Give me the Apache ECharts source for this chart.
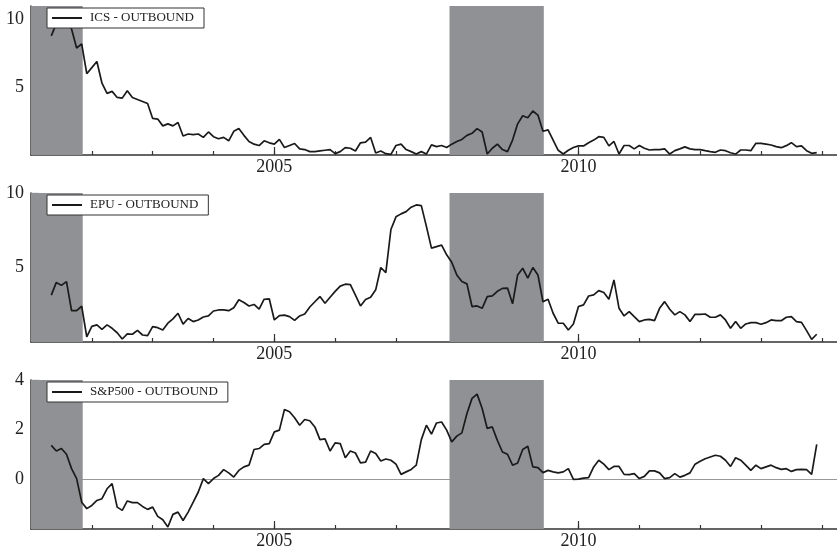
<!DOCTYPE html>
<html>
<head>
<meta charset="utf-8">
<script src="https://cdn.jsdelivr.net/npm/echarts@6/dist/echarts.min.js"></script>
<style>
html, body { margin: 0; padding: 0; background: #fff; }
#chartContainer { width: 837px; height: 551px; }
</style>
</head>
<body>
<div id="chartContainer"></div>
<script>
// monthly series, May 2001 .. Dec 2013
const startYear = 2001;
const startMonth = 5;

const icsValues = [
    8.8, 9.7, 9.6, 10.1, 9.3, 7.9, 8.2, 6.0, 6.45, 6.9, 5.3, 4.55, 4.7, 4.25, 4.2, 4.75, 4.25, 4.1, 3.95, 3.8,
    2.7, 2.65, 2.15, 2.3, 2.15, 2.4, 1.4, 1.55, 1.5, 1.55, 1.3, 1.7, 1.35, 1.2, 1.3, 1.05, 1.75, 1.95, 1.45, 1.0,
    0.8, 0.7, 1.05, 0.9, 0.8, 1.15, 0.55, 0.7, 0.85, 0.45, 0.4, 0.25, 0.25, 0.3, 0.35, 0.4, 0.1, 0.25, 0.55, 0.5,
    0.3, 0.9, 0.95, 1.3, 0.15, 0.3, 0.1, 0.05, 0.7, 0.8, 0.4, 0.25, 0.07, 0.25, 0.07, 0.75, 0.62, 0.7, 0.55, 0.8,
    1.0, 1.15, 1.45, 1.6, 1.95, 1.7, 0.07, 0.5, 0.8, 0.4, 0.25, 1.1, 2.3, 2.9, 2.75, 3.25, 2.95, 1.75, 1.85, 1.1,
    0.35, 0.07, 0.35, 0.55, 0.67, 0.67, 0.9, 1.1, 1.35, 1.3, 0.67, 1.0, 0.07, 0.7, 0.7, 0.45, 0.7, 0.5, 0.37, 0.4,
    0.4, 0.45, 0.07, 0.32, 0.45, 0.6, 0.45, 0.4, 0.4, 0.32, 0.25, 0.2, 0.37, 0.32, 0.17, 0.07, 0.37, 0.37, 0.32, 0.86,
    0.86, 0.8, 0.74, 0.62, 0.54, 0.69, 0.91, 0.62, 0.67, 0.32, 0.12, 0.17
];

const epuValues = [
    3.15, 4.0, 3.8, 4.05, 2.1, 2.1, 2.4, 0.35, 1.05, 1.15, 0.85, 1.15, 0.92, 0.62, 0.2, 0.55, 0.52, 0.78, 0.47, 0.43,
    1.03, 0.96, 0.8, 1.26, 1.55, 1.93, 1.2, 1.58, 1.37, 1.48, 1.68, 1.75, 2.08, 2.15, 2.15, 2.1, 2.3, 2.83, 2.65, 2.42,
    2.52, 2.2, 2.87, 2.9, 1.48, 1.77, 1.8, 1.7, 1.45, 1.75, 1.88, 2.35, 2.7, 3.05, 2.6, 3.0, 3.4, 3.75, 3.88, 3.85,
    3.15, 2.42, 2.85, 3.0, 3.5, 5.0, 4.65, 7.55, 8.4, 8.6, 8.75, 9.05, 9.2, 9.15, 7.76, 6.3, 6.4, 6.5, 5.85, 5.35,
    4.5, 4.06, 3.9, 2.38, 2.42, 2.26, 3.05, 3.1, 3.4, 3.6, 3.62, 2.56, 4.5, 4.95, 4.28, 5.0, 4.5, 2.7, 2.87, 1.93,
    1.26, 1.26, 0.81, 1.21, 2.38, 2.49, 3.09, 3.16, 3.45, 3.32, 2.87, 4.17, 2.26, 1.75, 2.04, 1.7, 1.37, 1.48, 1.52, 1.43,
    2.26, 2.71, 2.2, 1.82, 2.04, 1.82, 1.37, 1.86, 1.86, 1.88, 1.66, 1.66, 1.82, 1.48, 0.92, 1.37, 0.92, 1.21, 1.3, 1.3,
    1.19, 1.3, 1.48, 1.43, 1.43, 1.66, 1.7, 1.37, 1.32, 0.76, 0.18, 0.52
];

const spValues = [
    1.37, 1.14, 1.24, 1.01, 0.43, 0.03, -0.92, -1.18, -1.05, -0.85, -0.78, -0.38, -0.17, -1.12, -1.25, -0.87, -0.94, -0.94, -1.09, -1.21,
    -1.12, -1.49, -1.63, -1.92, -1.41, -1.32, -1.66, -1.32, -0.92, -0.51, 0.03, -0.17, 0.03, 0.16, 0.39, 0.26, 0.09, 0.36, 0.5, 0.57,
    1.2, 1.24, 1.41, 1.44, 1.91, 1.98, 2.81, 2.72, 2.48, 2.18, 2.41, 2.36, 2.11, 1.6, 1.63, 1.14, 1.47, 1.44, 0.87, 1.14,
    1.06, 0.66, 0.69, 1.14, 1.04, 0.74, 0.82, 0.77, 0.61, 0.2, 0.3, 0.4, 0.57, 1.6, 2.18, 1.82, 2.27, 2.31, 1.98, 1.51,
    1.74, 1.87, 2.65, 3.26, 3.43, 2.85, 2.05, 2.11, 1.57, 1.1, 1.01, 0.57, 0.66, 1.2, 1.33, 0.5, 0.47, 0.27, 0.36, 0.3,
    0.26, 0.3, 0.43, 0.0, 0.01, 0.05, 0.07, 0.5, 0.77, 0.61, 0.39, 0.52, 0.52, 0.2, 0.19, 0.23, 0.03, 0.12, 0.34, 0.34,
    0.26, 0.03, 0.07, 0.23, 0.09, 0.16, 0.26, 0.61, 0.73, 0.83, 0.9, 0.97, 0.93, 0.77, 0.52, 0.87, 0.77, 0.57, 0.36, 0.57,
    0.43, 0.5, 0.57, 0.47, 0.4, 0.43, 0.32, 0.39, 0.4, 0.39, 0.2, 1.41
];

const seriesNames = ['ICS - OUTBOUND', 'EPU - OUTBOUND', 'S&P500 - OUTBOUND'];
const recessions = [[2001.0, 2001.85], [2007.88, 2009.43]];
const yearTicks = [2002, 2003, 2004, 2005, 2006, 2007, 2008, 2009, 2010, 2011, 2012, 2013, 2014];
const yearLabels = [2005, 2010];
const yRanges = [[0, 11], [0, 10], [-2, 4]];
const yMajor = [[5, 10], [5, 10], [0, 2, 4]];
const yMinor = [[1, 2, 3, 4, 6, 7, 8, 9], [1.25, 2.5, 3.75, 6.25, 7.5, 8.75], [-1, 1, 3]];

const font = 'Liberation Serif';
const axisColor = '#333';
const lineColor = '#1a1a1a';
const panelTops = [6, 193, 380];

const chart = echarts.init(document.getElementById('chartContainer'));

function toPairs(values) {
    return values.map((v, i) => [startYear + (startMonth - 1 + i) / 12, v]);
}

const grids = [], xAxes = [], yAxes = [], legends = [], series = [];
const allValues = [icsValues, epuValues, spValues];

allValues.forEach((values, k) => {
    grids.push({ left: 31, right: 0, top: panelTops[k], height: 149, outerBoundsMode: 'none' });

    // minor ticks + axis line
    xAxes.push({
        type: 'value', gridIndex: k, position: 'bottom', min: 2001, max: 2014.25,
        axisLine: { show: true, onZero: false, lineStyle: { color: axisColor, width: 1.5 } },
        axisTick: { show: true, inside: true, length: 4, customValues: yearTicks, lineStyle: { color: axisColor, width: 1.2 } },
        axisLabel: { show: false },
        splitLine: { show: false }
    });
    // major ticks + labels
    xAxes.push({
        type: 'value', gridIndex: k, position: 'bottom', min: 2001, max: 2014.25,
        axisLine: { show: false, onZero: false },
        axisTick: { show: true, inside: true, length: 8, customValues: yearLabels, lineStyle: { color: axisColor, width: 1.2 } },
        axisLabel: {
            customValues: yearLabels, formatter: v => String(v),
            fontFamily: font, fontSize: 18, color: '#222', margin: 3
        },
        splitLine: { show: false }
    });

    yAxes.push({
        type: 'value', gridIndex: k, position: 'left', min: yRanges[k][0], max: yRanges[k][1],
        axisLine: { show: true, lineStyle: { color: axisColor, width: 1.5 } },
        axisTick: { show: true, inside: true, length: 4, customValues: yMinor[k], lineStyle: { color: axisColor, width: 1.2 } },
        axisLabel: { show: false },
        splitLine: { show: false }
    });
    yAxes.push({
        type: 'value', gridIndex: k, position: 'left', min: yRanges[k][0], max: yRanges[k][1],
        axisLine: { show: false },
        axisTick: { show: true, inside: true, length: 8, customValues: yMajor[k], lineStyle: { color: axisColor, width: 1.2 } },
        axisLabel: { customValues: yMajor[k], formatter: v => String(v), fontFamily: font, fontSize: 18, color: '#222', margin: 7 },
        splitLine: { show: false }
    });

    legends.push({
        data: [{ name: seriesNames[k], icon: 'rect' }],
        left: 47, top: panelTops[k] + 2,
        padding: [3, 10, 3, 5],
        itemWidth: 30, itemHeight: 2,
        itemStyle: { color: lineColor },
        backgroundColor: '#fff',
        borderColor: '#333', borderWidth: 1, borderRadius: 0,
        selectedMode: false,
        textStyle: { fontFamily: font, fontSize: 13, color: '#222', lineHeight: 14, padding: [0, 0, 0, 3] }
    });

    const s = {
        type: 'line',
        name: seriesNames[k],
        xAxisIndex: k * 2,
        yAxisIndex: k * 2,
        data: toPairs(values),
        symbol: 'none',
        lineStyle: { color: lineColor, width: 1.7 },
        itemStyle: { color: lineColor },
        markArea: {
            silent: true,
            itemStyle: { color: '#909195' },
            data: recessions.map(r => [{ xAxis: r[0] }, { xAxis: r[1] }])
        }
    };
    if (yRanges[k][0] < 0) {
        s.markLine = {
            silent: true, z: 0,
            symbol: ['none', 'none'],
            label: { show: false },
            lineStyle: { color: '#999', width: 1, type: 'solid' },
            data: [{ yAxis: 0 }]
        };
    }
    series.push(s);
});

chart.setOption({
    animation: false,
    backgroundColor: '#fff',
    grid: grids,
    xAxis: xAxes,
    yAxis: yAxes,
    legend: legends,
    series
});
</script>
</body>
</html>
